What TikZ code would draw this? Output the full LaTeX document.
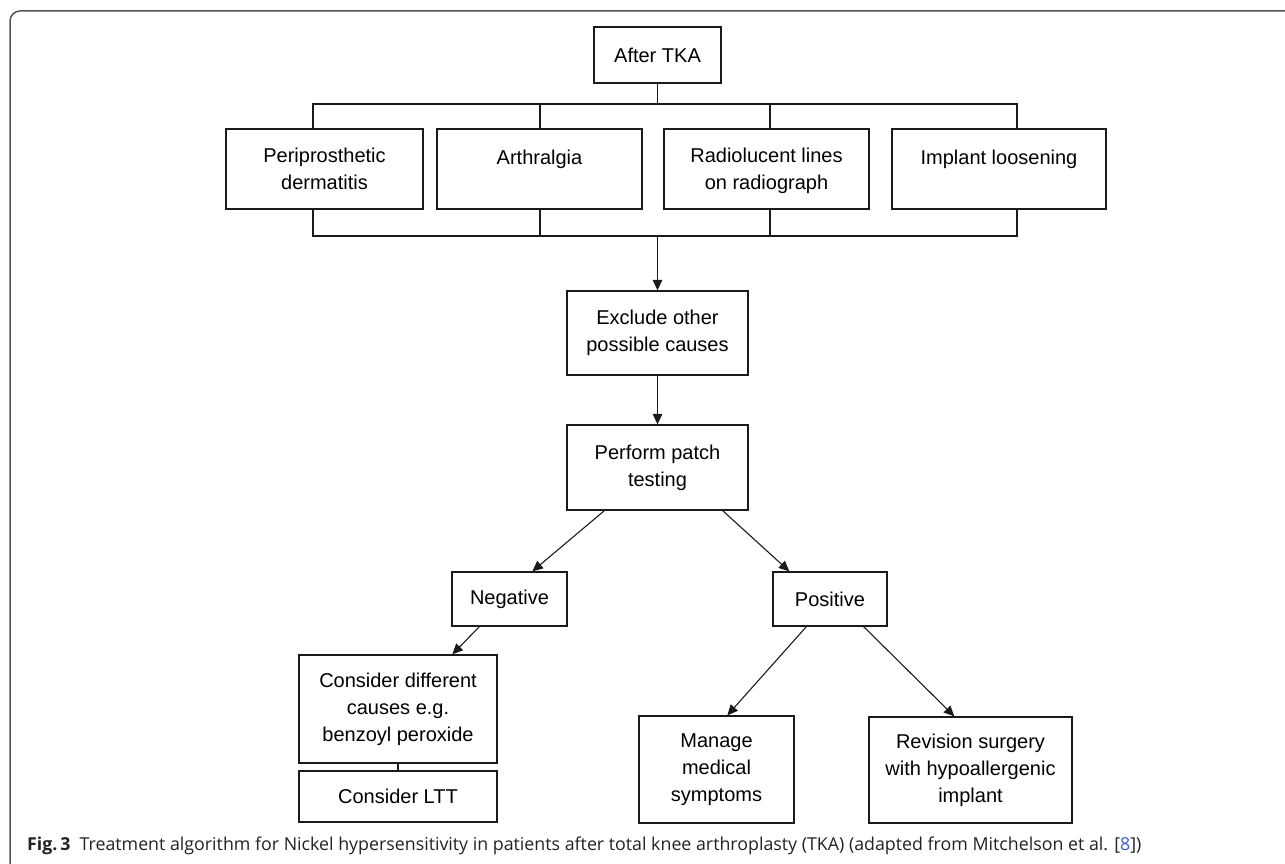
\documentclass[tikz,border=0pt]{standalone}
\usepackage{fontspec}
\setmainfont{Liberation Sans}
\newfontfamily\capfont{Open Sans}
\usetikzlibrary{arrows.meta}
\definecolor{framegray}{HTML}{555555}
\definecolor{boxline}{HTML}{1A1A1A}
\definecolor{linkblue}{HTML}{3A5BD9}
\definecolor{captext}{HTML}{222222}
\begin{document}
\begin{tikzpicture}[x=1pt,y=-1pt,
  box/.style={draw=boxline, line width=1.3pt, inner sep=0pt, align=center,
              font=\fontsize{20}{27}\selectfont},
  lbl/.style={inner sep=0pt, align=center, font=\fontsize{20}{27}\selectfont},
  conn/.style={draw=boxline, line width=1.1pt},
  arr/.style={conn, -{Triangle[length=10.5pt,width=9.5pt]}}]
\useasboundingbox (0,0) rectangle (1285,864);
% frame
\draw[framegray, line width=1.5pt, rounded corners=10pt] (10,864) -- (10,11) -- (1286,11);

% nodes
\node[box, minimum width=127pt, minimum height=56pt] (tka) at (657.5,55) {After TKA};
\node[box, minimum width=197pt, minimum height=80pt] (b1) at (324.5,169) {};
\node[box, minimum width=205pt, minimum height=80pt] (b2) at (539.5,169) {};
\node[box, minimum width=205pt, minimum height=80pt] (b3) at (766.5,169) {};
\node[box, minimum width=214pt, minimum height=80pt] (b4) at (999,169) {};
\node[lbl, anchor=north] (t1) at ([yshift=-19pt]b1.north) {Periprosthetic\\dermatitis};
\node[lbl, anchor=north] (t2) at ([yshift=-21pt]b2.north) {Arthralgia};
\node[lbl, anchor=north] (t3) at ([yshift=-19pt]b3.north) {Radiolucent lines\\on radiograph};
\node[lbl, anchor=north] (t4) at ([yshift=-21pt]b4.north) {Implant loosening};

\node[box, minimum width=181pt, minimum height=84pt] (excl) at (657.5,333) {Exclude other\\possible causes};
\node[box, minimum width=181pt, minimum height=85pt] (patch) at (657.5,467.5) {Perform patch\\testing};
\node[box, minimum width=115pt, minimum height=54pt] (neg) at (509.5,599) {Negative};
\node[box, minimum width=114pt, minimum height=54pt] (pos) at (830,599) {Positive};
\node[box, minimum width=198pt, minimum height=108pt] (cons) at (398,709) {Consider different\\causes e.g.\\benzoyl peroxide};
\node[box, minimum width=198pt, minimum height=51pt] (ltt) at (398,796.5) {Consider LTT};
\node[box, minimum width=155pt, minimum height=107pt] (manage) at (716.5,769.5) {Manage\\medical\\symptoms};
\node[box, minimum width=203pt, minimum height=106pt] (rev) at (970.5,770) {Revision surgery\\with hypoallergenic\\implant};

% bus coordinates
\coordinate (busT) at (0,104);
\coordinate (busB) at (0,236);
\coordinate (d1) at (313,0);
\coordinate (d2) at (540,0);
\coordinate (d3) at (770,0);
\coordinate (d4) at (1017,0);

% top bus
\draw[conn] (tka.south) -- (tka.south |- busT);
\draw[conn] (d1 |- b1.north) -- (d1 |- busT) -- (d4 |- busT) -- (d4 |- b4.north);
\draw[conn] (d2 |- busT) -- (d2 |- b2.north);
\draw[conn] (d3 |- busT) -- (d3 |- b3.north);
% bottom bus
\draw[conn] (d1 |- b1.south) -- (d1 |- busB) -- (d4 |- busB) -- (d4 |- b4.south);
\draw[conn] (d2 |- b2.south) -- (d2 |- busB);
\draw[conn] (d3 |- b3.south) -- (d3 |- busB);
\draw[arr] (excl.north |- busB) -- (excl.north);

\draw[arr] (excl.south) -- (patch.north);
\draw[arr] ([xshift=38pt]patch.south west) -- ([xshift=81pt]neg.north west);
\draw[arr] ([xshift=-26pt]patch.south east) -- ([xshift=17pt]pos.north west);
\draw[arr] ([xshift=28pt]neg.south west) -- ([xshift=154pt]cons.north west);
\draw[conn] (cons.south) -- (ltt.north);
\draw[arr] ([xshift=34pt]pos.south west) -- ([xshift=89pt]manage.north west);
\draw[arr] ([xshift=-24pt]pos.south east) -- ([xshift=86pt]rev.north west);

% caption
\node[anchor=base west, inner sep=0pt, text=captext] (cap) at (27,850)
  {\capfont\fontsize{17.8}{21}\selectfont\textbf{Fig.\,3}\hspace{9pt}Treatment algorithm for Nickel hypersensitivity in patients after total knee arthroplasty (TKA) (adapted from Mitchelson et al. [{\color{linkblue}8}])};
\end{tikzpicture}
\end{document}
